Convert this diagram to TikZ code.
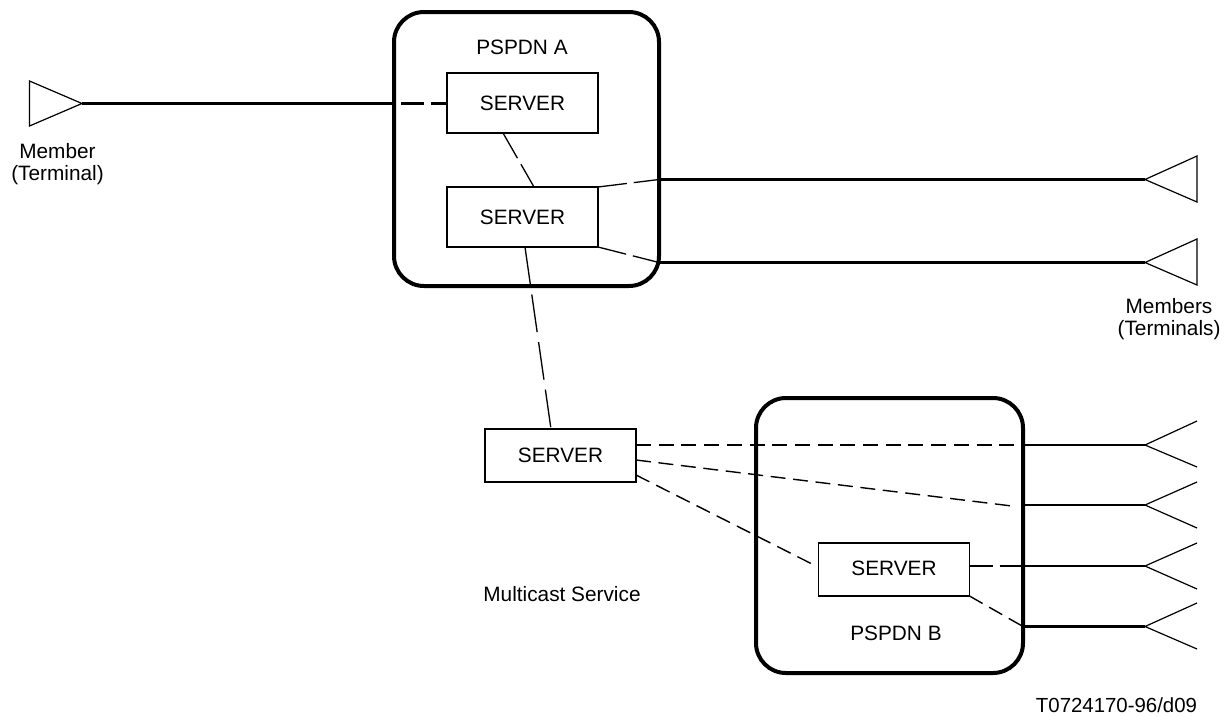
\documentclass[tikz,border=0pt]{standalone}
\usepackage{fontspec}
\setmainfont{Liberation Sans}
\tikzset{
  net/.style={draw=black,line width=4pt,rounded corners=30pt,inner sep=0pt,outer sep=0pt,minimum width=#1},
  srv/.style={draw=black,line width=1.2pt,inner sep=0pt,outer sep=0pt,minimum width=151pt,minimum height=#1},
  lbl/.style={inner sep=0pt,outer sep=0pt,align=center,font=\fontsize{20.8}{22}\selectfont},
  solidln/.style={line width=2.4pt},
  thickdash/.style={line width=2.6pt,dash pattern=on 15pt off 7.7pt},
  midthick/.style={line width=2.4pt,dash pattern=on 23pt off 7pt},
  thindash/.style={line width=1.4pt,dash pattern=on 15pt off 7.6pt},
  longdash/.style={line width=1.3pt,dash pattern=on 38pt off 10pt},
  shortlong/.style={line width=1.3pt,dash pattern=on 29pt off 7pt},
  term/.style={line width=1.2pt,line join=miter}
}
\begin{document}
\begin{tikzpicture}[x=1pt,y=-1pt]
\useasboundingbox (0,0) rectangle (1231,716);
% networks
\node[net=265pt,minimum height=274pt] (A) at (526.5,149) {};
\node[net=267pt,minimum height=275pt] (B) at (889.5,535.5) {};
% servers
\node[srv=60pt,lbl] (s1) at (522.5,103) {\raisebox{-1.5pt}{SERVER}};
\node[srv=60pt,lbl] (s2) at (522.5,217) {SERVER};
\node[srv=53pt,lbl] (s3) at (560.5,455.5) {SERVER};
\node[srv=53pt,lbl] (s4) at (894,569.5) {\raisebox{2pt}{SERVER}};
% labels
\node[lbl] (la) at (522,47) {PSPDN A};
\node[lbl] (lb) at (896,633) {PSPDN B};
\node[lbl] (lm) at (562,594) {Multicast Service};
\node[lbl] (lt) at (57.5,164.5) {Member\\(Terminal)};
\node[lbl] (lts) at (1169,319) {Members\\(Terminals)};
\node[lbl,anchor=east,font=\fontsize{20.4}{22}\selectfont] (ref) at (1197,705) {T0724170-96/d09};
% terminal points
\coordinate (t0) at (82,103.5);
\coordinate (t1) at (1145,179.5);
\coordinate (t2) at (1145,262.5);
\coordinate (t3) at (1145,445);
\coordinate (t4) at (1145,505);
\coordinate (t5) at (1145,566);
\coordinate (t6) at (1145,626.5);
% terminals
\draw[term] (t0) -- (29.5,81) -- (29.5,126) -- cycle;
\draw[term] (1197,156) -- (t1) -- (1197,202) -- cycle;
\draw[term] (1197,239) -- (t2) -- (1197,285) -- cycle;
\draw[term] (1197,421) -- (t3) -- (1197,467);
\draw[term] (1197,482) -- (t4) -- (1197,528);
\draw[term] (1197,543) -- (t5) -- (1197,589);
\draw[term] (1197,603) -- (t6) -- (1197,649);
% boundary points
\coordinate (a0) at (A.west |- t0);
\coordinate (a1) at (A.east |- t1);
\coordinate (a2) at (A.east |- t2);
\coordinate (b3) at (B.east |- t3);
\coordinate (b4) at (B.east |- t4);
\coordinate (b5) at (B.east |- t5);
\coordinate (b6) at (B.east |- t6);
% ports
\coordinate (s1w) at (s1.west |- t0);
\coordinate (s1b) at (503,133);
\coordinate (s2t) at (534,187);
\coordinate (s2b) at (525,247);
\coordinate (s3t) at (551,429);
\coordinate (s3r1) at (s3.east |- t3);
\coordinate (s3r2) at (636,460);
\coordinate (s3r3) at (636,475);
\coordinate (s4l) at (812,564);
\coordinate (s4r) at (s4.east |- t5);
\coordinate (b4e) at (1012,506);
% solid
\draw[solidln] (t0) -- (a0);
\draw[solidln] (a1) -- (t1);
\draw[solidln] (a2) -- (t2);
\draw[solidln] (b3) -- (t3);
\draw[solidln] (b4) -- (t4);
\draw[solidln] (b5) -- (t5);
\draw[solidln] (b6) -- (t6);
% dashed
\draw[midthick,dash phase=-7pt] (a0) -- (s1w);
\draw[shortlong] (s1b) -- (s2t);
\draw[shortlong] (s2.north east) -- (a1);
\draw[shortlong] (s2.south east) -- (a2);
\draw[longdash] (s2b) -- (s3t);
\draw[thickdash] (s3r1) -- (b3);
\draw[thindash] (s3r2) -- (b4e);
\draw[thindash] (s3r3) -- (s4l);
\draw[midthick] (s4r) -- (b5);
\draw[thindash] (s4.south east) -- (b6);
\end{tikzpicture}
\end{document}
